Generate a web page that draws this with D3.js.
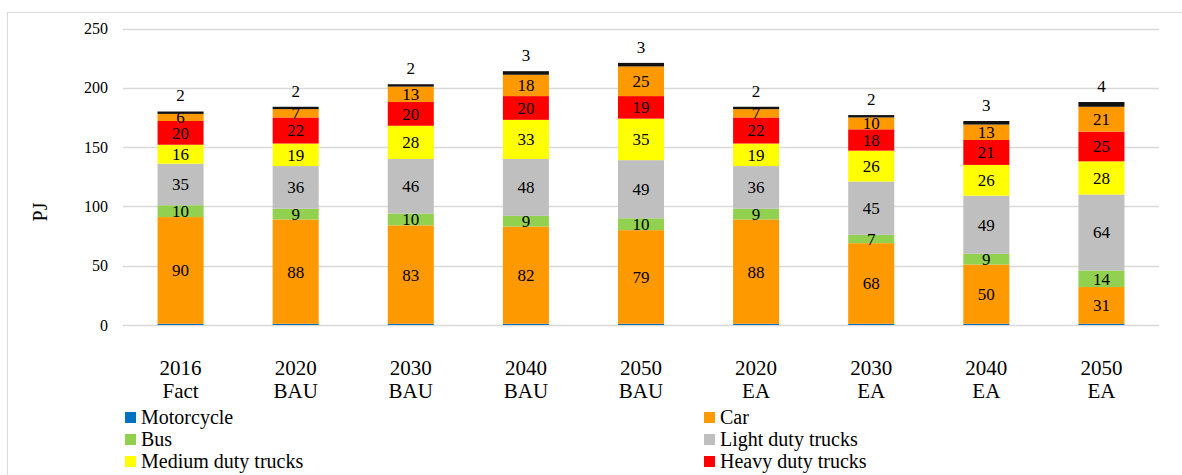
<!DOCTYPE html>
<html><head><meta charset="utf-8">
<script src="https://cdn.jsdelivr.net/npm/d3@7"></script>
<style>
html,body{margin:0;padding:0;background:#fff;}
svg text{font-family:"Liberation Serif","Times New Roman","DejaVu Serif",serif !important;}
</style></head>
<body>
<svg id="chart" width="1182" height="475"></svg>
<script>
const categories = [["2016","Fact"],["2020","BAU"],["2030","BAU"],["2040","BAU"],["2050","BAU"],["2020","EA"],["2030","EA"],["2040","EA"],["2050","EA"]];
const seriesNames = ["Motorcycle","Car","Bus","Light duty trucks","Medium duty trucks","Heavy duty trucks","Other","Other 2"];
const motorcycle = [1,1,1,1,1,1,1,1,1];
const car = [90,88,83,82,79,88,68,50,31];
const bus = [10,9,10,9,10,9,7,9,14];
const lightTrucks = [35,36,46,48,49,36,45,49,64];
const mediumTrucks = [16,19,28,33,35,19,26,26,28];
const heavyTrucks = [20,22,20,20,19,22,18,21,25];
const other = [6,7,13,18,25,7,10,13,21];
const other2 = [2,2,2,3,3,2,2,3,4];
const yTicks = [0,50,100,150,200,250];
const colors = ["#0070C0","#FF9900","#92D050","#BFBFBF","#FFFF00","#FF0000","#FF9900","#111111"];
const legendShown = 6;
const FONT = "'Liberation Serif','Times New Roman','DejaVu Serif',serif";

const seriesValues = [motorcycle,car,bus,lightTrucks,mediumTrucks,heavyTrucks,other,other2];
const table = categories.map((c,i)=>{
  const row = {key: c.join(" ")};
  seriesNames.forEach((s,j)=>row[s]=seriesValues[j][i]);
  return row;
});

const svg = d3.select("#chart");
svg.append("rect").attr("x",7.5).attr("y",12.5).attr("width",1200).attr("height",500)
  .attr("fill","none").attr("stroke","#d9d9d9").attr("stroke-width",1);

const x = d3.scaleBand().domain(table.map(d=>d.key)).range([123,1159]).paddingInner(0.6).paddingOuter(0.3);
const y = d3.scaleLinear().domain([0,250]).range([325,28.5]);

svg.append("g").selectAll("line").data(yTicks).join("line")
  .attr("x1",123).attr("x2",1159)
  .attr("y1",d=>Math.round(y(d))+0.5).attr("y2",d=>Math.round(y(d))+0.5)
  .attr("stroke","#d9d9d9").attr("stroke-width",1.3);

const yAxis = d3.axisLeft(y).tickValues(yTicks).tickSize(0).tickPadding(0);
const ya = svg.append("g").attr("transform","translate(108,0)").call(yAxis)
  .attr("font-family",FONT).attr("font-size",16);
ya.select(".domain").remove();
ya.selectAll("text").attr("fill","#000").attr("dy","0.32em");

svg.append("text").attr("transform","translate(47,212) rotate(-90)")
  .attr("font-family",FONT)
  .attr("text-anchor","middle").attr("font-size","20px").attr("fill","#000").text("PJ");

const stack = d3.stack().keys(seriesNames)(table);

const g = svg.append("g");
stack.forEach((layer,j)=>{
  g.append("g").selectAll("rect").data(layer).join("rect")
    .attr("x",d=>x(d.data.key)).attr("width",x.bandwidth())
    .attr("y",d=>y(d[1])).attr("height",d=>y(d[0])-y(d[1]))
    .attr("fill",colors[j]);
});

stack.forEach((layer,j)=>{
  if(j===0) return;
  const last = j===seriesNames.length-1;
  g.append("g").selectAll("text").data(layer).join("text")
    .attr("font-family",FONT)
    .attr("x",d=>x(d.data.key)+x.bandwidth()/2)
    .attr("y",d=> last ? y(d[1])-16 : (y(d[0])+y(d[1]))/2)
    .attr("dy","0.35em")
    .attr("text-anchor","middle").attr("font-size","17px").attr("fill","#000")
    .text(d=>d[1]-d[0]);
});

const xl = svg.append("g").selectAll("text").data(table).join("text")
  .attr("font-family",FONT)
  .attr("x",d=>x(d.key)+x.bandwidth()/2).attr("text-anchor","middle")
  .attr("font-size","21px").attr("fill","#000");
xl.append("tspan").attr("x",d=>x(d.key)+x.bandwidth()/2).attr("y",375).text((d,i)=>categories[i][0]);
xl.append("tspan").attr("x",d=>x(d.key)+x.bandwidth()/2).attr("y",398).text((d,i)=>categories[i][1]);

const leg = svg.append("g");
seriesNames.slice(0,legendShown).forEach((s,i)=>{
  const col = i%2, row = Math.floor(i/2);
  const lx = col===0 ? 125 : 704;
  const ly = 424 + row*22;
  leg.append("rect").attr("x",lx).attr("y",ly-12).attr("width",11).attr("height",11).attr("fill",colors[i]);
  leg.append("text").attr("font-family",FONT).attr("x",lx+16).attr("y",ly).attr("font-size","20px").attr("fill","#000").text(s);
});
</script>
</body></html>
